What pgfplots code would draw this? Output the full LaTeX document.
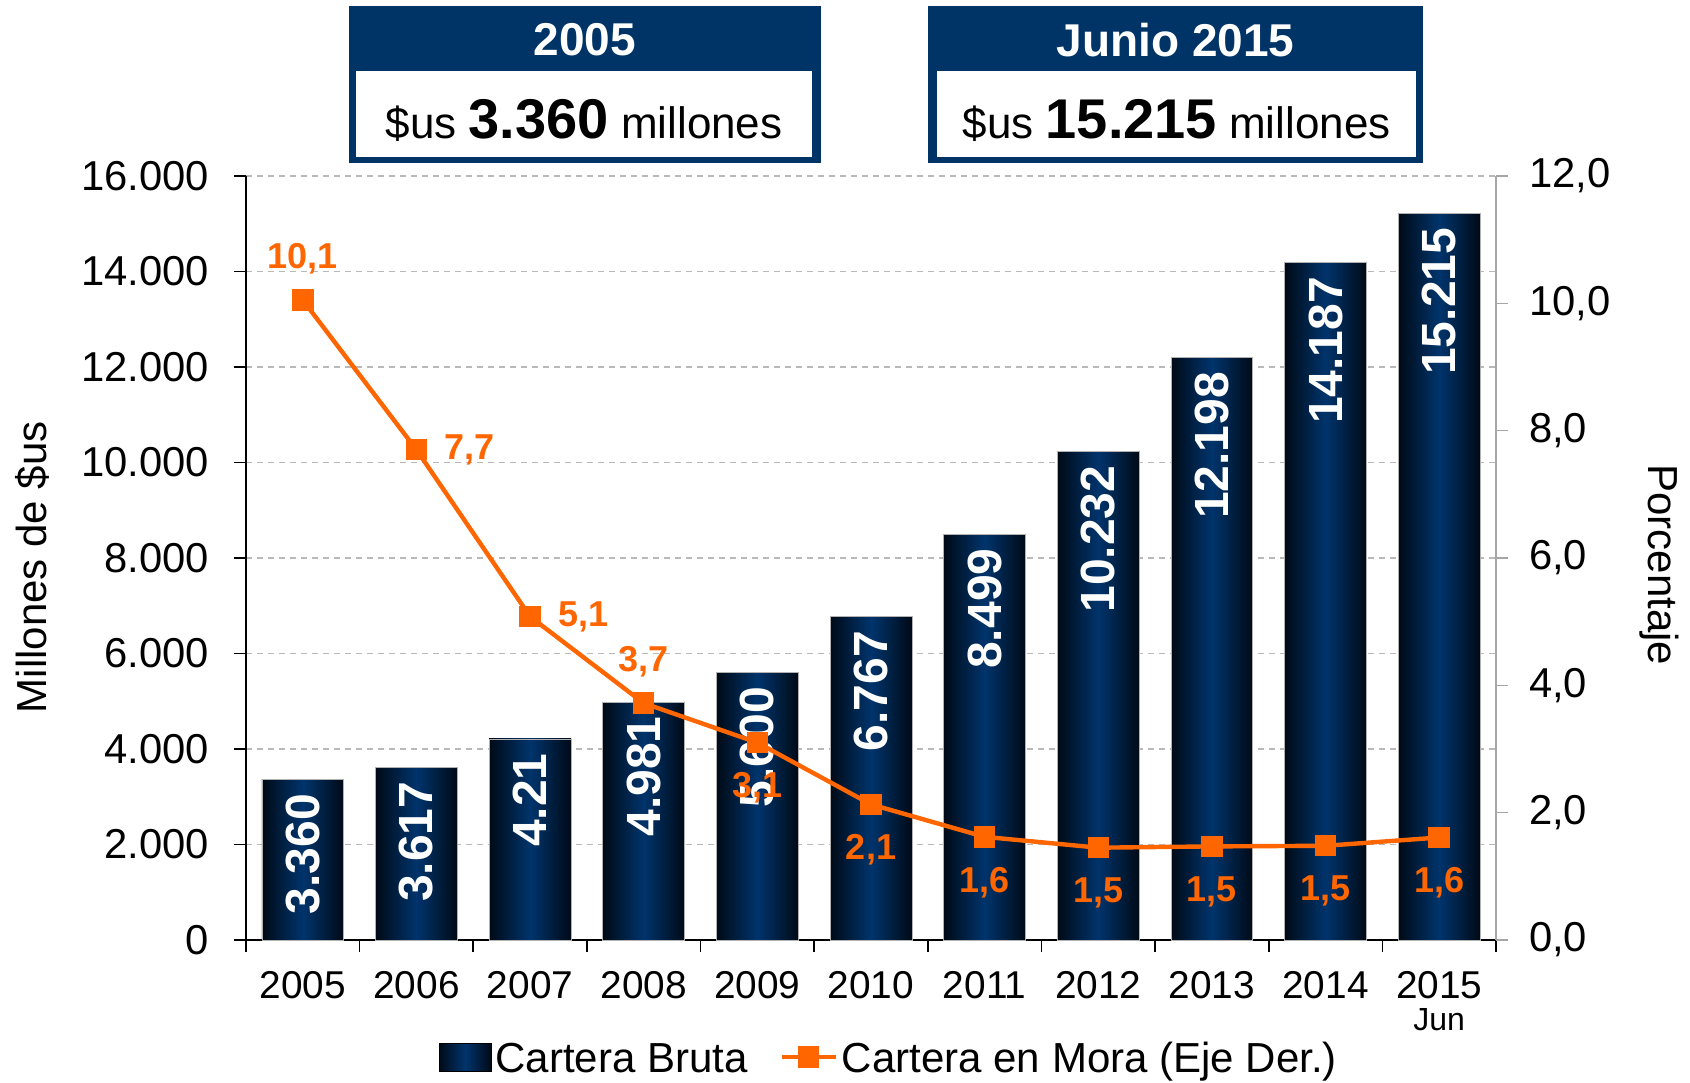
\documentclass[border=0pt]{standalone}
\usepackage{pgfplots}
\pgfplotsset{compat=1.18}
\usepackage{fontspec}
\setmainfont{Liberation Sans}
\definecolor{navy}{HTML}{003366}
\definecolor{baredge}{HTML}{000A16}
\definecolor{barmid}{HTML}{00346C}
\definecolor{orng}{HTML}{FF6600}
\newcommand{\fs}[1]{\fontsize{#1}{#1}\selectfont}
\pgfplotsset{
  mybar/.style={ybar, bar width=0.72, bar shift=0pt, draw=gray!60, line width=0.4pt,
    left color=baredge, right color=baredge, middle color=barmid,
    point meta=explicit symbolic, nodes near coords,
    every node near coord/.append style={rotate=90, anchor=east, text=white, font=\bfseries\fs{24}, inner xsep=7pt, fill=none, draw=none}},
}
\begin{document}
\begin{tikzpicture}
\begin{axis}[
  at={(0,0)}, anchor=south west,
  scale only axis, width=625pt, height=382pt,
  xmin=-0.5, xmax=10.5, ymin=0, ymax=16000,
  clip=false,
  axis x line*=bottom, axis y line*=left,
  axis line style={black, line width=0.8pt},
  tick style={black, line width=0.8pt},
  tick align=outside, major tick length=6pt,
  xtick={-0.5,0.5,...,10.5},
  x tick label as interval,
  xticklabels={2005,2006,2007,2008,2009,2010,2011,2012,2013,2014,{2015\\[-3pt]{\fs{16}Jun}}},
  xticklabel style={align=center, font=\fs{19.4}, yshift=-6pt},
  ytick={0,2000,...,16000},
  scaled y ticks=false,
  yticklabel style={font=\fs{20.9}, xshift=-9pt, /pgf/number format/.cd, 1000 sep={.}, assume math mode=true},
  ymajorgrids,
  grid style={gray!55, line width=0.6pt, dash pattern=on 3pt off 2.5pt},
  every axis y label/.style={at={(axis description cs:-0.171,0.488)}, rotate=90, anchor=center, font=\fs{21}},
  ylabel={Millones de \$us},
]
\addplot[mybar] coordinates {(0,3360)[3.360]};
\addplot[mybar] coordinates {(1,3617)[3.617]};
\addplot[mybar] coordinates {(2,4211)[4.21]};
\addplot[mybar] coordinates {(3,4981)[4.981]};
\addplot[mybar] coordinates {(4,5600)[5.600]};
\addplot[mybar] coordinates {(5,6767)[6.767]};
\addplot[mybar] coordinates {(6,8499)[8.499]};
\addplot[mybar] coordinates {(7,10232)[10.232]};
\addplot[mybar] coordinates {(8,12198)[12.198]};
\addplot[mybar] coordinates {(9,14187)[14.187]};
\addplot[mybar] coordinates {(10,15215)[15.215]};
\end{axis}
\begin{axis}[
  at={(0,0)}, anchor=south west,
  scale only axis, width=625pt, height=382pt,
  xmin=-0.5, xmax=10.5, ymin=0, ymax=12,
  clip=false,
  axis x line=none, axis y line*=right,
  axis line style={gray!70, line width=0.8pt},
  tick style={gray!70, line width=0.8pt},
  tick align=outside, major tick length=6pt,
  ytick={0,2,...,12},
  yticklabel style={font=\fs{20.9}, text=black, xshift=7pt, /pgf/number format/.cd, fixed, fixed zerofill, precision=1, use comma, assume math mode=true},
  every axis y label/.style={at={(axis description cs:1.131,0.491)}, rotate=-90, anchor=center, font=\fs{21}},
  ylabel={Porcentaje},
  legend style={at={(0.515,-0.156)}, anchor=center, draw=none, fill=none, legend columns=2, font=\fs{21},
    /tikz/every even column/.append style={column sep=14pt}},
]
\addlegendimage{legend image code/.code={\fill[left color=baredge,right color=baredge,middle color=barmid] (0pt,-6pt) rectangle (26pt,8pt);}}
\addlegendentry{Cartera Bruta}
\addplot[orng, line width=2.2pt, mark=square*, mark size=4.25pt, mark options={solid},
  legend image code/.code={\draw[orng, line width=2.2pt] (0pt,1pt) -- (27pt,1pt); \fill[orng] (9.25pt,-3.25pt) rectangle (17.75pt,5.25pt);}]
coordinates {(0,10.05) (1,7.70) (2,5.08) (3,3.72) (4,3.10) (5,2.13) (6,1.62) (7,1.45) (8,1.47) (9,1.48) (10,1.61)};
\addlegendentry{Cartera en Mora (Eje Der.)}
% labels above
\addplot[draw=none, forget plot, point meta=explicit symbolic, nodes near coords,
  every node near coord/.append style={anchor=south, yshift=9.7pt, font=\bfseries\fs{18}, text=orng}]
coordinates {(0,10.05)[10,1] (3,3.72)[3,7]};
% labels right
\addplot[draw=none, forget plot, point meta=explicit symbolic, nodes near coords,
  every node near coord/.append style={anchor=west, xshift=10.5pt, yshift=0pt, font=\bfseries\fs{18}, text=orng}]
coordinates {(1,7.70)[7,7] (2,5.08)[5,1]};
% labels below
\addplot[draw=none, forget plot, point meta=explicit symbolic, nodes near coords,
  every node near coord/.append style={anchor=north, yshift=-11.5pt, font=\bfseries\fs{18}, text=orng}]
coordinates {(4,3.10)[3,1] (5,2.13)[2,1] (6,1.62)[1,6] (7,1.45)[1,5] (8,1.47)[1,5] (9,1.48)[1,5] (10,1.61)[1,6]};
\end{axis}
% header boxes
\fill[navy] (51.5pt,388.65pt) rectangle (287.35pt,467.15pt);
\fill[white] (55pt,391.65pt) rectangle (283pt,434.65pt);
\node[text=white, font=\bfseries\fs{23}] at (169.4pt,450pt) {2005};
\node[anchor=base, font=\fs{22}, inner sep=0pt] at (169pt,400.5pt) {\$us {\bfseries\fs{28}3.360} millones};
\fill[navy] (341.15pt,388.65pt) rectangle (588.35pt,467.15pt);
\fill[white] (345.65pt,391.65pt) rectangle (585pt,434.65pt);
\node[text=white, font=\bfseries\fs{23}] at (464.75pt,450pt) {Junio 2015};
\node[anchor=base, font=\fs{22}, inner sep=0pt] at (465.3pt,400.5pt) {\$us {\bfseries\fs{28}15.215} millones};
\pgfresetboundingbox
\path (-123pt,-71pt) rectangle (722pt,470pt);
\end{tikzpicture}
\end{document}
